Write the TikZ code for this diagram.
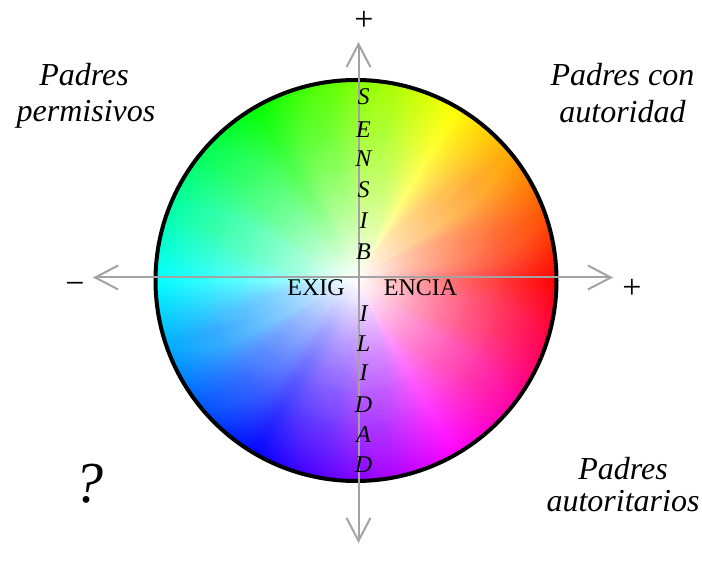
\documentclass[tikz,border=0pt]{standalone}
\usepackage{fontspec}
\setmainfont{Liberation Serif}
\usetikzlibrary{arrows.meta}
\definecolor{axisgray}{RGB}{163,163,163}
\begin{document}
\begin{tikzpicture}[x=1pt,y=1pt,
  axisline/.style={draw=axisgray, line width=2pt, {Straight Barb[length=23pt,width=24pt]}-{Straight Barb[length=23pt,width=24pt]}},
  quadlbl/.style={font=\fontsize{32}{36}\selectfont\itshape, anchor=base, inner sep=0pt},
  vletter/.style={font=\fontsize{24}{24}\selectfont\itshape, anchor=base, inner sep=0pt},
  hword/.style={font=\fontsize{24}{24}\selectfont, anchor=base, inner sep=0pt},
  signlbl/.style={font=\fontsize{34}{34}\selectfont, anchor=center, inner sep=0pt}]
\useasboundingbox (0,0) rectangle (702,560);
\coordinate (c) at (356,279.5);
% colour wheel: hue sectors
\begin{scope}
  \clip (c) circle[radius=200.5pt];
  \foreach \a in {0,...,359} {
    \pgfmathsetmacro\hh{\a/360}
    \definecolor{wc}{hsb}{\hh,1,1}
    \fill[wc] (c) -- +(\a-0.75:206) -- +(\a+0.75:206) -- cycle;
  }
  % white towards the centre
  \foreach \m in {1,...,100} {
    \pgfmathsetmacro\rr{2.005*(101-\m)}
    \pgfmathsetmacro\op{1/(101-\m)}
    \fill[white, fill opacity=\op] (c) circle[radius=\rr pt];
  }
\end{scope}
\draw[line width=4pt] (c) circle[radius=200.5pt];
% axes
\coordinate (vtop) at (358.5,518);
\coordinate (vbot) at (358.5,17);
\coordinate (hleft) at (93,282.5);
\coordinate (hright) at (613,282.5);
\draw[axisline] (vbot) -- (vtop);
\draw[axisline] (hleft) -- (hright);
% signs
\node[signlbl] (ptop) at (364,539) {+};
\node[signlbl] (pright) at (632,271) {+};
\node[signlbl] (mleft) at (75,272) {−};
% vertical word
\node[vletter] (s1) at (363.5,455) {S};
\node[vletter] (s2) at (363.5,422) {E};
\node[vletter] (s3) at (363.5,393) {N};
\node[vletter] (s4) at (363.5,362) {S};
\node[vletter] (s5) at (363.5,331) {I};
\node[vletter] (s6) at (363.5,300) {B};
\node[vletter] (s7) at (363.5,238) {I};
\node[vletter] (s8) at (363.5,208) {L};
\node[vletter] (s9) at (363.5,179) {I};
\node[vletter] (s10) at (363.5,147) {D};
\node[vletter] (s11) at (363.5,117) {A};
\node[vletter] (s12) at (363.5,87) {D};
% horizontal word
\node[hword] (ex1) at (316,264) {EXIG};
\node[hword] (ex2) at (420.5,264) {ENCIA};
% quadrant labels
\node[quadlbl] (pp1) at (84,474) {Padres};
\node[quadlbl] (pp2) at (86,438) {permisivos};
\node[quadlbl] (pa1) at (622.5,474) {Padres con};
\node[quadlbl] (pa2) at (622.5,437) {autoridad};
\node[quadlbl] (pt1) at (623,80) {Padres};
\node[quadlbl] (pt2) at (623,48) {autoritarios};
\node[font=\fontsize{58}{58}\selectfont\itshape, anchor=base, inner sep=0pt] (q) at (89,57) {?};
\end{tikzpicture}
\end{document}
